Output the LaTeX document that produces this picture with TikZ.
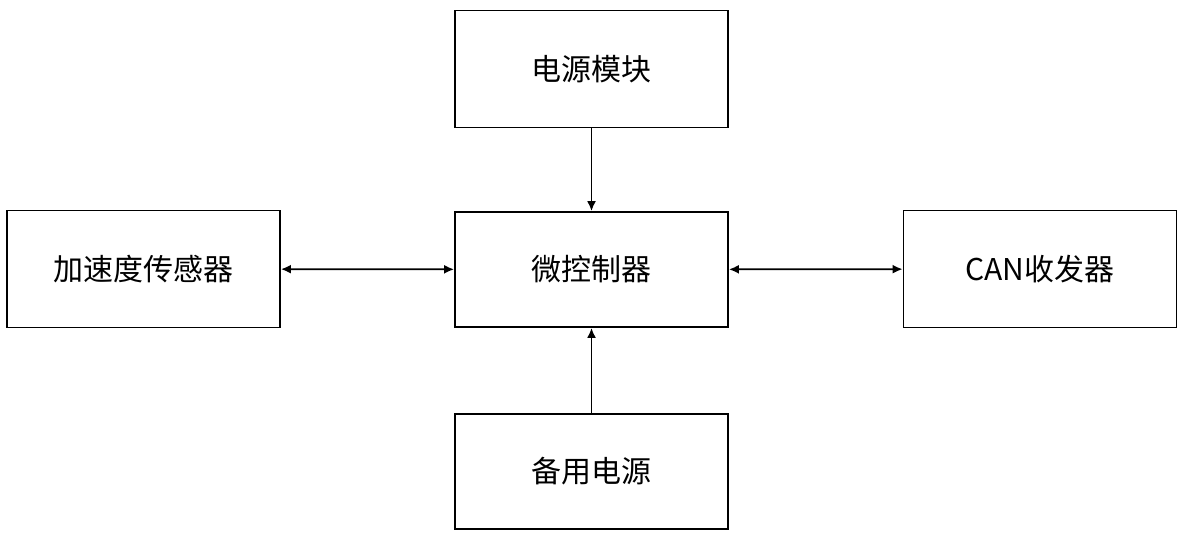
\documentclass[tikz,border=0pt]{standalone}
\usepackage{fontspec}
\newfontfamily\cjk{Noto Sans CJK SC}
\usetikzlibrary{arrows.meta}
\begin{document}
\begin{tikzpicture}[x=1pt,y=-1pt,
  blk/.style={draw=black,line width=1.8pt,minimum width=273pt,minimum height=117pt,inner sep=0pt,font=\cjk\fontsize{30}{35}\selectfont},
  conn/.style={line width=1.8pt,-{Latex[length=10pt,width=9pt]}},
  biconn/.style={line width=1.8pt,{Latex[length=10pt,width=9pt]}-{Latex[length=10pt,width=9pt]}}]
\useasboundingbox (0,0) rectangle (1186,544);
\node[blk] (pwr) at (591.5,69) {电源模块};
\node[blk,minimum height=115pt] (mcu) at (591.5,269.5) {微控制器};
\node[blk] (acc) at (143.5,269) {加速度传感器};
\node[blk] (can) at (1040,269) {CAN收发器};
\node[blk,minimum height=115pt] (bak) at (591.5,471.5) {备用电源};
\draw[conn] (pwr) -- (mcu);
\draw[conn] (bak) -- (mcu);
\draw[biconn] (acc) -- (mcu);
\draw[biconn] (mcu) -- (can);
\end{tikzpicture}
\end{document}
